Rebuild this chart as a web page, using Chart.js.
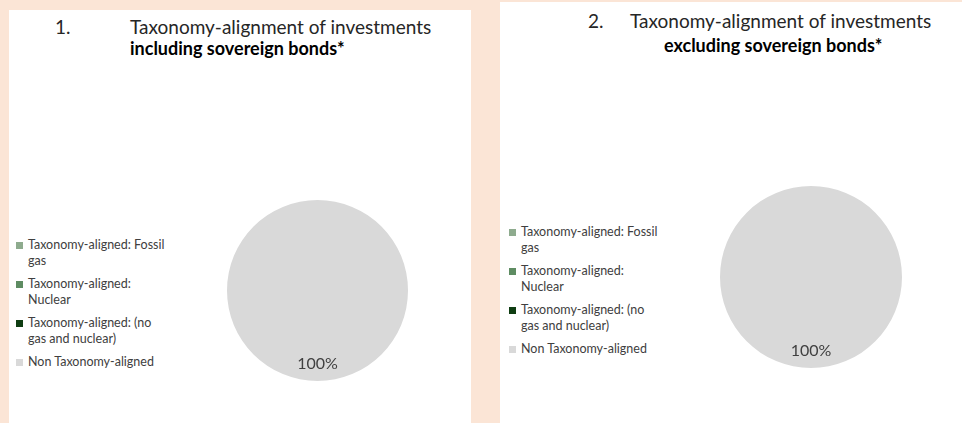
<!DOCTYPE html>
<html>
<head>
<meta charset="utf-8">
<script src="https://cdn.jsdelivr.net/npm/chart.js@4"></script>
<style>
  body { margin: 0; width: 962px; height: 423px; background: #fbe5d6; overflow: hidden; font-family: Lato, "Open Sans", sans-serif; color: #262626; }
  .panel { position: absolute; background: #fff; }
  .t { position: absolute; white-space: nowrap; font-size: 19px; line-height: 20px; }
  .b { font-weight: bold; color: #000; font-size: 18px; }
  .legend { position: absolute; font-size: 12.5px; line-height: 16px; color: #404040; }
  .legend .item { position: relative; padding-left: 12px; white-space: nowrap; }
  .legend .sw { position: absolute; left: 0; top: 5px; width: 7px; height: 7px; }
  .pie { position: absolute; }
</style>
</head>
<body>
<div class="panel" style="left:9px;top:10px;width:462px;height:413px"></div>
<div class="panel" style="left:500px;top:2px;width:462px;height:421px"></div>

<div class="t" style="left:55px;top:17px">1.</div>
<div class="t" style="left:130px;top:17px">Taxonomy-alignment of investments</div>
<div class="t b" style="left:130px;top:38px">including sovereign bonds*</div>

<div class="t" style="left:588px;top:11px">2.</div>
<div class="t" style="left:630px;top:11px">Taxonomy-alignment of investments</div>
<div class="t b" style="left:664px;top:35px">excluding sovereign bonds*</div>

<div class="legend" id="legend1" style="left:16px;top:237px"></div>
<div class="legend" id="legend2" style="left:509px;top:224px"></div>

<div class="pie" style="left:227px;top:200px;width:181px;height:181px"><canvas id="pie1"></canvas></div>
<div class="pie" style="left:720px;top:186px;width:182px;height:182px"><canvas id="pie2"></canvas></div>

<script>
// labels split the way the legend wraps them
const categories = [
  ['Taxonomy-aligned: Fossil', 'gas'],
  ['Taxonomy-aligned:', 'Nuclear'],
  ['Taxonomy-aligned: (no', 'gas and nuclear)'],
  ['Non Taxonomy-aligned']
];
const colors = ['#8eab8e', '#5e8c62', '#0f3d12', '#d9d9d9'];
const includingSovereign = [0, 0, 0, 100];
const excludingSovereign = [0, 0, 0, 100];

function buildLegend(id) {
  const el = document.getElementById(id);
  categories.forEach((lines, i) => {
    const item = document.createElement('div');
    item.className = 'item';
    item.style.marginBottom = '7px';
    item.innerHTML = `<span class="sw" style="background:${colors[i]}"></span>${lines.join('<br>')}`;
    el.appendChild(item);
  });
}
buildLegend('legend1');
buildLegend('legend2');

const pctLabels = {
  id: 'pctLabels',
  afterDatasetsDraw(chart) {
    const ctx = chart.ctx;
    const values = chart.data.datasets[0].data;
    const total = values.reduce((a, b) => a + b, 0);
    chart.getDatasetMeta(0).data.forEach((arc, i) => {
      if (!values[i]) return;
      const mid = (arc.startAngle + arc.endAngle) / 2;
      const r = arc.outerRadius * 0.81;
      ctx.save();
      ctx.fillStyle = '#404040';
      ctx.font = '16px Lato';
      ctx.textAlign = 'center';
      ctx.textBaseline = 'middle';
      ctx.fillText(Math.round(values[i] / total * 100) + '%', arc.x + Math.cos(mid) * r, arc.y + Math.sin(mid) * r);
      ctx.restore();
    });
  }
};

function makePie(id, values) {
  new Chart(document.getElementById(id), {
    type: 'pie',
    data: {
      labels: categories,
      datasets: [{ data: values, backgroundColor: colors, borderWidth: 0 }]
    },
    options: {
      responsive: true,
      maintainAspectRatio: false,
      animation: false,
      layout: { padding: 0 },
      plugins: { legend: { display: false }, tooltip: { enabled: false } }
    },
    plugins: [pctLabels]
  });
}
makePie('pie1', includingSovereign);
makePie('pie2', excludingSovereign);
</script>
</body>
</html>
